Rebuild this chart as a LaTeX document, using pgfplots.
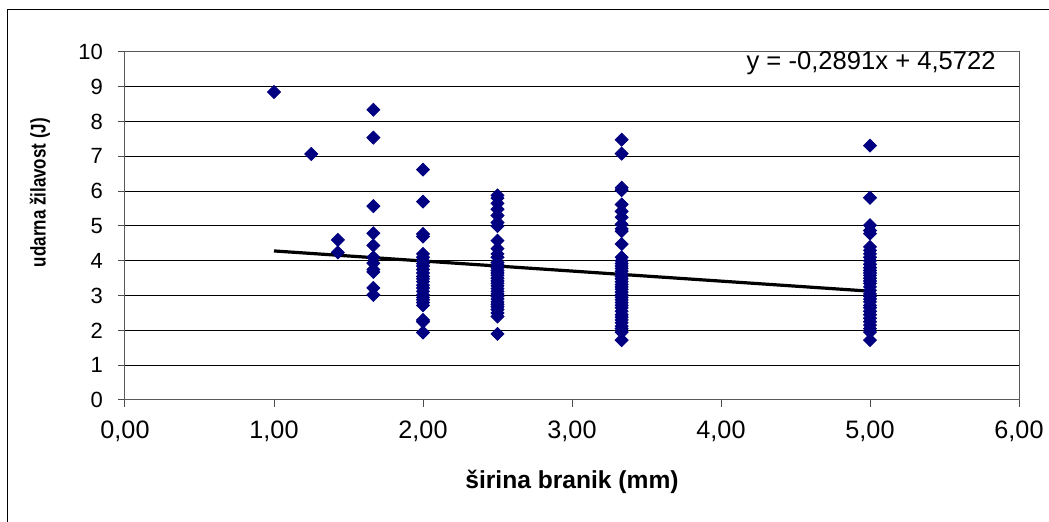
\documentclass[border=0pt]{standalone}
\usepackage{fontspec}
\setmainfont{Liberation Sans}
\usepackage{graphicx}
\usepackage{pgfplots}
\pgfplotsset{compat=1.18}
\definecolor{navyd}{RGB}{0,0,128}
\begin{document}
\begin{tikzpicture}
\path[use as bounding box] (-62.5pt,-61pt) rectangle (462pt,200pt);
\draw[black, line width=0.6pt] (-58.8pt,-62pt) -- (-58.8pt,195.4pt) -- (463pt,195.4pt);
\begin{axis}[
  at={(0pt,0pt)}, anchor=origin,
  scale only axis, width=447pt, height=174pt,
  xmin=0, xmax=6, ymin=0, ymax=10,
  xtick={0,1,2,3,4,5,6}, ytick={0,1,...,10},
  tick align=outside, major tick length=3.5pt,
  tick style={gray!60!black, line width=0.5pt},
  xtick pos=bottom, ytick pos=left,
  ymajorgrids, grid style={black, line width=0.5pt},
  axis line style={gray!70!black, line width=0.5pt},
  /pgf/number format/assume math mode=true,
  xticklabel style={/pgf/number format/use comma, /pgf/number format/fixed, /pgf/number format/fixed zerofill, /pgf/number format/precision=2, yshift=-3.5pt, font=\fontsize{12.6}{14}\selectfont},
  yticklabel style={/pgf/number format/fixed, /pgf/number format/precision=0, xshift=-4pt, font=\fontsize{11}{13}\selectfont},
  xlabel={širina branik (mm)},
  ylabel={\scalebox{0.8}[1]{udarna žilavost (J)}},
  every axis x label/.style={at={(rel axis cs:0.5,0)}, yshift=-41pt, anchor=center, font=\bfseries\fontsize{12.3}{14}\selectfont},
  every axis y label/.style={at={(rel axis cs:0,0.596)}, xshift=-42.5pt, rotate=90, anchor=center, font=\bfseries\fontsize{10.6}{12}\selectfont},
  clip=false,
]
\addplot[only marks, mark=square*, mark size=2.3pt, mark options={rotate=45, fill=navyd, draw=navyd}] coordinates {
(1,8.85)
(1.25,7.07)
(1.4286,4.60) (1.4286,4.24)
(1.6667,8.34) (1.6667,7.54) (1.6667,5.57) (1.6667,4.79) (1.6667,4.44) (1.6667,4.10) (1.6667,3.93) (1.6667,3.75) (1.6667,3.68) (1.6667,3.22) (1.6667,3.02)
(2,6.62) (2,5.70) (2,4.77) (2,4.70) (2,4.20) (2,4.10) (2,4.00) (2,3.92) (2,3.85) (2,3.75) (2,3.65) (2,3.55) (2,3.48) (2,3.40) (2,3.30) (2,3.22) (2,3.12) (2,3.02) (2,2.95) (2,2.88) (2,2.80) (2,2.72) (2,2.30) (2,2.25) (2,1.94)
(2.5,5.88) (2.5,5.80) (2.5,5.65) (2.5,5.48) (2.5,5.30) (2.5,5.10) (2.5,5.00) (2.5,4.58) (2.5,4.35) (2.5,4.20) (2.5,4.10) (2.5,3.95) (2.5,3.88) (2.5,3.80) (2.5,3.72) (2.5,3.65) (2.5,3.58) (2.5,3.50) (2.5,3.42) (2.5,3.35) (2.5,3.28) (2.5,3.20) (2.5,3.12) (2.5,3.05) (2.5,2.98) (2.5,2.90) (2.5,2.82) (2.5,2.75) (2.5,2.68) (2.5,2.60) (2.5,2.50) (2.5,2.40) (2.5,1.90)
(3.3333,7.48) (3.3333,7.08) (3.3333,6.10) (3.3333,6.03) (3.3333,5.62) (3.3333,5.42) (3.3333,5.25) (3.3333,5.05) (3.3333,4.92) (3.3333,4.85) (3.3333,4.48) (3.3333,4.10) (3.3333,4.00) (3.3333,3.92) (3.3333,3.85) (3.3333,3.78) (3.3333,3.70) (3.3333,3.62) (3.3333,3.55) (3.3333,3.48) (3.3333,3.40) (3.3333,3.32) (3.3333,3.25) (3.3333,3.18) (3.3333,3.10) (3.3333,3.02) (3.3333,2.95) (3.3333,2.88) (3.3333,2.80) (3.3333,2.72) (3.3333,2.65) (3.3333,2.55) (3.3333,2.45) (3.3333,2.38) (3.3333,2.30) (3.3333,2.22) (3.3333,2.12) (3.3333,2.05) (3.3333,1.95) (3.3333,1.72)
(5,7.31) (5,5.81) (5,5.02) (5,4.87) (5,4.78) (5,4.40) (5,4.30) (5,4.20) (5,4.10) (5,4.00) (5,3.90) (5,3.80) (5,3.72) (5,3.65) (5,3.58) (5,3.50) (5,3.42) (5,3.35) (5,3.25) (5,3.15) (5,3.05) (5,2.98) (5,2.90) (5,2.82) (5,2.72) (5,2.65) (5,2.55) (5,2.45) (5,2.35) (5,2.25) (5,2.15) (5,2.05) (5,1.95) (5,1.72)
};
\addplot[black, line width=1.6pt, no marks] coordinates {(1,4.2831) (5,3.1267)};
\node[anchor=east, inner sep=0pt, font=\fontsize{12.8}{14}\selectfont] at (axis cs:5.846,9.68) {y = -0,2891x + 4,5722};
\end{axis}
\end{tikzpicture}
\end{document}
